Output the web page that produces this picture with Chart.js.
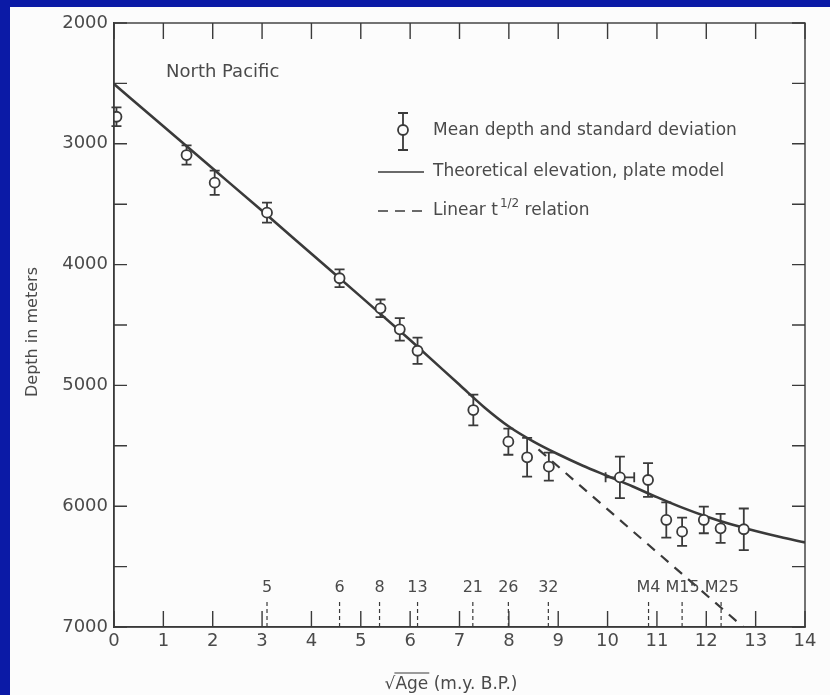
<!DOCTYPE html>
<html lang="en">
<head>
  <meta charset="UTF-8" />
  <title>North Pacific – depth vs. square root of age</title>
  <script src="https://cdn.jsdelivr.net/npm/chart.js"></script>
  <style>
    * { margin: 0; padding: 0; }
    body { background: #0b1aa6; width: 830px; height: 695px; overflow: hidden; }
    canvas { display: block; }
  </style>
</head>
<body>
  <canvas id="depth-chart" width="830" height="695"></canvas>
  <script>
    // mean depth points (sqrt of age in m.y., depth in m, +- std dev)
    const sqrtAge   = [0.05, 1.47, 2.04, 3.10, 4.57, 5.40, 5.79, 6.15, 7.28, 7.99, 8.37, 8.81, 10.25, 10.82, 11.19, 11.51, 11.95, 12.29, 12.76];
    const meanDepth = [2776, 3093, 3322, 3570, 4113, 4362, 4536, 4713, 5204, 5466, 5595, 5673, 5761, 5783, 6114, 6211, 6114, 6183, 6191];
    const depthSD   = [78, 80, 100, 83, 73, 73, 93, 108, 127, 108, 160, 116, 172, 140, 146, 117, 110, 120, 172];
    const ageSD     = [0, 0, 0, 0, 0, 0, 0, 0, 0, 0, 0, 0, 0.29, 0, 0, 0, 0, 0, 0];

    // plate model curve
    const plateX     = [0, 1, 2, 3, 4, 5, 6, 7, 7.5, 8, 8.5, 9, 9.5, 10, 10.5, 11, 11.5, 12, 12.5, 13, 13.5, 14];
    const plateDepth = [2505, 2855, 3205, 3555, 3910, 4265, 4625, 4995, 5180, 5340, 5465, 5570, 5665, 5750, 5835, 5925, 6010, 6085, 6150, 6205, 6255, 6300];

    // linear t^1/2 branch
    const linearX     = [8.6, 12.75];
    const linearDepth = [5530, 7000];

    // magnetic anomaly markers along the age axis
    const anomalyLabels = ['5', '6', '8', '13', '21', '26', '32', 'M4', 'M15', 'M25'];
    const anomalyPos    = [3.10, 4.57, 5.38, 6.15, 7.27, 7.99, 8.80, 10.83, 11.51, 12.30];

    const INK = '#3a3a3a';
    const TEXT = '#4a4a4a';
    const FONT = '"DejaVu Sans", sans-serif';

    const paper = {
      id: 'paper',
      beforeDraw(chart) {
        const ctx = chart.ctx;
        ctx.save();
        ctx.fillStyle = '#0b1aa6';
        ctx.fillRect(0, 0, chart.width, chart.height);
        ctx.fillStyle = '#fcfcfc';
        ctx.fillRect(10, 7, chart.width - 10, chart.height - 7);
        ctx.restore();
      }
    };

    const errorBars = {
      id: 'errorBars',
      beforeDatasetsDraw(chart) {
        const { ctx, scales: { x, y } } = chart;
        ctx.save();
        ctx.strokeStyle = INK;
        ctx.lineWidth = 1.8;
        ctx.beginPath();
        sqrtAge.forEach((a, i) => {
          const px = x.getPixelForValue(a);
          const top = y.getPixelForValue(meanDepth[i] - depthSD[i]);
          const bot = y.getPixelForValue(meanDepth[i] + depthSD[i]);
          ctx.moveTo(px, top); ctx.lineTo(px, bot);
          ctx.moveTo(px - 5, top); ctx.lineTo(px + 5, top);
          ctx.moveTo(px - 5, bot); ctx.lineTo(px + 5, bot);
          if (ageSD[i] > 0) {
            const py = y.getPixelForValue(meanDepth[i]);
            const l = x.getPixelForValue(a - ageSD[i]);
            const r = x.getPixelForValue(a + ageSD[i]);
            ctx.moveTo(l, py); ctx.lineTo(r, py);
            ctx.moveTo(l, py - 5); ctx.lineTo(l, py + 5);
            ctx.moveTo(r, py - 5); ctx.lineTo(r, py + 5);
          }
        });
        ctx.stroke();
        ctx.restore();
      }
    };

    const frame = {
      id: 'frame',
      afterDraw(chart) {
        const { ctx, chartArea: a, scales: { x, y } } = chart;
        ctx.save();
        ctx.strokeStyle = INK;
        ctx.lineWidth = 1.4;
        ctx.strokeRect(a.left, a.top, a.right - a.left, a.bottom - a.top);

        // inward tick marks on all four sides
        ctx.beginPath();
        x.ticks.forEach(t => {
          const px = x.getPixelForValue(t.value);
          ctx.moveTo(px, a.top); ctx.lineTo(px, a.top + 16);
          ctx.moveTo(px, a.bottom); ctx.lineTo(px, a.bottom - 16);
        });
        y.ticks.forEach(t => {
          const py = y.getPixelForValue(t.value);
          ctx.moveTo(a.left, py); ctx.lineTo(a.left + 13, py);
          ctx.moveTo(a.right, py); ctx.lineTo(a.right - 13, py);
        });
        ctx.stroke();

        // anomaly markers; labels nudged right where they would collide
        ctx.lineWidth = 1.2;
        ctx.setLineDash([4, 3]);
        ctx.fillStyle = TEXT;
        ctx.font = '16px ' + FONT;
        ctx.textAlign = 'center';
        ctx.textBaseline = 'middle';
        let lastRight = -Infinity;
        anomalyPos.forEach((v, i) => {
          const px = x.getPixelForValue(v);
          ctx.beginPath();
          ctx.moveTo(px, y.getPixelForValue(7000));
          ctx.lineTo(px, y.getPixelForValue(6790));
          ctx.stroke();
          const w = ctx.measureText(anomalyLabels[i]).width;
          const cx = Math.max(px, lastRight + 5 + w / 2);
          ctx.fillText(anomalyLabels[i], cx, y.getPixelForValue(6675));
          lastRight = cx + w / 2;
        });
        ctx.setLineDash([]);

        // panel label
        ctx.font = '18px ' + FONT;
        ctx.textAlign = 'left';
        ctx.fillText('North Pacific', 166, 72);

        // legend
        ctx.font = '17px ' + FONT;
        ctx.lineWidth = 1.8;
        ctx.beginPath();
        ctx.moveTo(403, 113); ctx.lineTo(403, 150);
        ctx.moveTo(398, 113); ctx.lineTo(408, 113);
        ctx.moveTo(398, 150); ctx.lineTo(408, 150);
        ctx.stroke();
        ctx.beginPath();
        ctx.arc(403, 130, 5, 0, Math.PI * 2);
        ctx.fillStyle = '#fcfcfc';
        ctx.fill();
        ctx.stroke();
        ctx.fillStyle = TEXT;
        ctx.fillText('Mean depth and standard deviation', 433, 131);

        ctx.lineWidth = 1.6;
        ctx.beginPath();
        ctx.moveTo(378, 172); ctx.lineTo(424, 172);
        ctx.stroke();
        ctx.fillText('Theoretical elevation, plate model', 433, 172);

        ctx.setLineDash([10, 7]);
        ctx.beginPath();
        ctx.moveTo(378, 211); ctx.lineTo(424, 211);
        ctx.stroke();
        ctx.setLineDash([]);
        let tx = 433;
        ctx.fillText('Linear t', tx, 211);
        tx += ctx.measureText('Linear t').width + 2;
        ctx.font = '12px ' + FONT;
        ctx.fillText('1/2', tx, 204);
        tx += ctx.measureText('1/2').width;
        ctx.font = '17px ' + FONT;
        ctx.fillText(' relation', tx, 211);

        // axis titles
        ctx.font = '16px ' + FONT;
        ctx.save();
        ctx.translate(33, 332);
        ctx.rotate(-Math.PI / 2);
        ctx.textAlign = 'center';
        ctx.fillText('Depth in meters', 0, 0);
        ctx.restore();

        ctx.font = '17px ' + FONT;
        ctx.textAlign = 'left';
        ctx.textBaseline = 'alphabetic';
        const title = '√Age (m.y. B.P.)';
        const tw = ctx.measureText(title).width;
        const sx = 451 - tw / 2;
        ctx.fillText(title, sx, 689);
        const rw = ctx.measureText('√').width;
        const aw = ctx.measureText('Age').width;
        ctx.lineWidth = 1.2;
        ctx.beginPath();
        ctx.moveTo(sx + rw - 1, 673);
        ctx.lineTo(sx + rw + aw + 1, 673);
        ctx.stroke();
        ctx.restore();
      }
    };

    new Chart(document.getElementById('depth-chart'), {
      type: 'scatter',
      data: {
        datasets: [
          {
            label: 'Mean depth and standard deviation',
            data: sqrtAge.map((a, i) => ({ x: a, y: meanDepth[i] })),
            pointRadius: 5,
            pointBorderWidth: 1.8,
            backgroundColor: '#fcfcfc',
            borderColor: INK
          },
          {
            label: 'Theoretical elevation, plate model',
            data: plateX.map((a, i) => ({ x: a, y: plateDepth[i] })),
            showLine: true,
            pointRadius: 0,
            borderColor: INK,
            borderWidth: 2.6,
            cubicInterpolationMode: 'monotone'
          },
          {
            label: 'Linear t1/2 relation',
            data: linearX.map((a, i) => ({ x: a, y: linearDepth[i] })),
            showLine: true,
            pointRadius: 0,
            borderColor: INK,
            borderWidth: 2.2,
            borderDash: [10, 8]
          }
        ]
      },
      options: {
        responsive: false,
        animation: false,
        devicePixelRatio: 1,
        layout: { padding: { top: 23, right: 25, left: 0, bottom: 0 } },
        plugins: { legend: { display: false }, tooltip: { enabled: false } },
        scales: {
          x: {
            type: 'linear', position: 'bottom', min: 0, max: 14,
            afterFit: s => { s.height = 68; },
            ticks: { stepSize: 1, autoSkip: false, maxRotation: 0, padding: 4, color: TEXT, font: { family: FONT, size: 18 } },
            grid: { display: false, drawTicks: false },
            border: { display: true, color: INK, width: 1.4 }
          },
          y: {
            type: 'linear', reverse: true, min: 2000, max: 7000,
            afterFit: s => { s.width = 114; },
            ticks: {
              stepSize: 500, padding: 6, color: TEXT, font: { family: FONT, size: 18 },
              callback: v => (v % 1000 === 0 ? String(v) : '')
            },
            grid: { display: false, drawTicks: false },
            border: { display: true, color: INK, width: 1.4 }
          }
        }
      },
      plugins: [paper, errorBars, frame]
    });
  </script>
</body>
</html>
